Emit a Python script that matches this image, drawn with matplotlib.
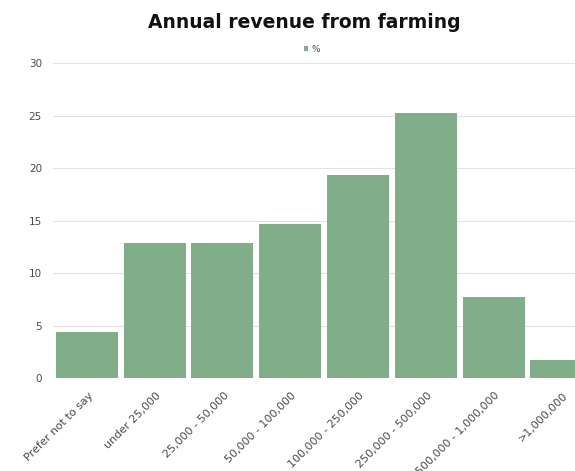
import matplotlib
matplotlib.use("Agg")
import matplotlib.pyplot as plt
import matplotlib.transforms as mtransforms

categories = ["Prefer not to say", "under 25,000", "25,000 - 50,000", "50,000 - 100,000",
              "100,000 - 250,000", "250,000 - 500,000", "500,000 - 1,000,000", ">1,000,000"]
percent = [4.4, 12.9, 12.9, 14.7, 19.3, 25.2, 7.7, 1.7]
y_ticks = [0, 5, 10, 15, 20, 25, 30]

bar_color = "#80ae89"
text_color = "#4a4a4a"

plt.rcParams["font.family"] = ["DejaVu Sans"]

W, H = 575, 471
fig = plt.figure(figsize=(W / 100, H / 100), dpi=100)
left_px, right_px, bottom_px, top_px = 53, 575, 378, 63
ax = fig.add_axes([left_px / W, 1 - bottom_px / H, (right_px - left_px) / W, (bottom_px - top_px) / H])

x = list(range(len(categories)))
ax.bar(x, percent, width=0.915, color=bar_color, edgecolor="none", zorder=2, label="%")

ax.set_xlim(-0.5, 7.2)
ax.set_ylim(0, 30)
ax.set_yticks(y_ticks)
ax.yaxis.grid(True, color="#e3e3e3", linewidth=0.8, zorder=0)
ax.set_axisbelow(True)
for s in ax.spines.values():
    s.set_visible(False)
ax.tick_params(axis="both", length=0, colors=text_color)
ax.tick_params(axis="y", pad=8, labelsize=7.5)
ax.set_xticks(x)
ax.set_xticklabels(categories, rotation=45, ha="right", rotation_mode="anchor")
ax.tick_params(axis="x", pad=9, labelsize=8)
shift = mtransforms.ScaledTranslation(1 / 100, 0, fig.dpi_scale_trans)
for lbl in ax.get_xticklabels():
    lbl.set_transform(lbl.get_transform() + shift)

fig.text(304 / W, 1 - 22 / H, "Annual revenue from farming", ha="center", va="center",
         fontsize=13.5, fontweight="bold", color="#111111")
fig.legend(loc="center", bbox_to_anchor=(312 / W, 1 - 49 / H), frameon=False,
           fontsize=6.5, handlelength=0.5, handleheight=0.5, handletextpad=0.4,
           labelcolor=text_color)

fig.savefig("out.png", dpi=100, facecolor="white")
